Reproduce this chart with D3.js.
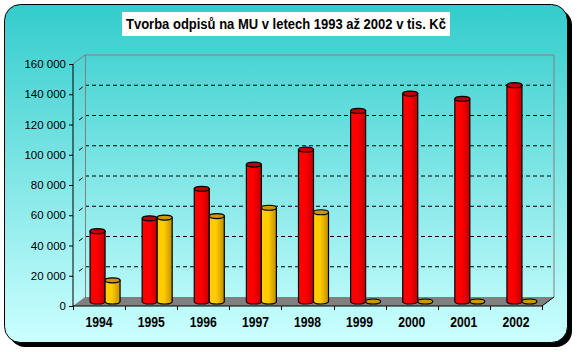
<!DOCTYPE html>
<html>
<head>
<meta charset="utf-8">
<script src="https://cdn.jsdelivr.net/npm/d3@7"></script>
<style>
  html, body { margin: 0; padding: 0; background: #ffffff; }
  svg { display: block; }
</style>
</head>
<body>
<div id="wrapper"></div>
<script>
// chart data
const years = ["1994", "1995", "1996", "1997", "1998", "1999", "2000", "2001", "2002"]
const seriesNames = ["red", "yellow"]
const redValues = [46500, 55000, 74500, 90500, 100500, 126000, 137500, 134000, 143000]
const yellowValues = [14000, 55500, 56500, 62000, 59000, 0, 0, 0, 0]
const yTicks = [0, 20000, 40000, 60000, 80000, 100000, 120000, 140000, 160000]
const titleText = "Tvorba odpisů na MU v letech 1993 až 2002 v tis. Kč"

function drawChart() {
    const width = 577
    const height = 352

    // plot area (front plane) and the 3d depth offset
    const plot = { left: 73, right: 542, top: 64, bottom: 306 }
    const depth = { dx: 12, dy: -9 }

    const svg = d3.select("#wrapper")
        .append("svg")
            .attr("width", width)
            .attr("height", height)

    const defs = svg.append("defs")

    const bg = defs.append("linearGradient")
        .attr("id", "bg").attr("x1", 0).attr("y1", 0).attr("x2", 0).attr("y2", 1)
    bg.append("stop").attr("offset", "0%").attr("stop-color", "#33cccc")
    bg.append("stop").attr("offset", "100%").attr("stop-color", "#ccffff")

    // cylinder shading, light on the left, darker on the right
    const shades = {
        red: ["#ff0000", "#ff0000", "#c00000"],
        yellow: ["#ffcc00", "#ffcc00", "#c09000"]
    }
    const capColors = { red: "#c00000", yellow: "#c89a00" }
    Object.keys(shades).forEach(k => {
        const g = defs.append("linearGradient")
            .attr("id", "cyl-" + k).attr("x1", 0).attr("y1", 0).attr("x2", 1).attr("y2", 0)
        g.append("stop").attr("offset", "0%").attr("stop-color", shades[k][0])
        g.append("stop").attr("offset", "45%").attr("stop-color", shades[k][1])
        g.append("stop").attr("offset", "100%").attr("stop-color", shades[k][2])
    })

    // outer frame with shadow
    svg.append("rect")
        .attr("x", 9).attr("y", 9).attr("width", 563).attr("height", 338)
        .attr("rx", 16).attr("fill", "#000")
    svg.append("rect")
        .attr("x", 4.5).attr("y", 4.5).attr("width", 563).attr("height", 338)
        .attr("rx", 16).attr("fill", "url(#bg)").attr("stroke", "#000")

    // title, squeezed to look like a narrow face
    svg.append("rect")
        .attr("x", 122).attr("y", 12).attr("width", 328).attr("height", 24)
        .attr("fill", "#fff")
    svg.append("text")
        .attr("x", 126).attr("y", 28.5)
        .attr("textLength", 320)
        .attr("lengthAdjust", "spacingAndGlyphs")
        .style("font-family", "'Liberation Sans', Arial, sans-serif")
        .style("font-weight", "bold")
        .style("font-size", "14px")
        .text(titleText)

    // scales
    const y = d3.scaleLinear()
        .domain([0, 160000])
        .range([plot.bottom, plot.top])

    // bars sit at mid depth
    const yBar = d3.scaleLinear()
        .domain([0, 160000])
        .range([plot.bottom + depth.dy / 2, plot.top + depth.dy / 2])

    const x = d3.scaleBand()
        .domain(years)
        .range([plot.left, plot.right])

    const xSeries = d3.scaleBand()
        .domain(seriesNames)
        .range([0, 30])

    // back wall gridlines
    const grid = svg.append("g")
    grid.selectAll("line.grid")
        .data(yTicks.filter(t => t > 0 && t < 160000))
        .join("line")
            .attr("x1", plot.left + depth.dx)
            .attr("x2", plot.right + depth.dx)
            .attr("y1", d => y(d) + depth.dy)
            .attr("y2", d => y(d) + depth.dy)
            .attr("stroke", "#000")
            .attr("stroke-dasharray", "4,3")
    // little bits of gridline on the side wall
    grid.selectAll("line.side")
        .data(yTicks.filter(t => t > 0 && t < 160000))
        .join("line")
            .attr("x1", plot.left)
            .attr("y1", d => y(d))
            .attr("x2", plot.left + depth.dx)
            .attr("y2", d => y(d) + depth.dy)
            .attr("stroke", "#000")
            .attr("stroke-dasharray", "0,7.5,4.5,20")

    // wall edges
    const wall = svg.append("g")
        .attr("fill", "none").attr("stroke", "#808080")
    wall.append("path")
        .attr("d", `M${plot.left},${plot.top} L${plot.left + depth.dx},${plot.top + depth.dy}
                    L${plot.right + depth.dx},${plot.top + depth.dy}
                    L${plot.right + depth.dx},${plot.bottom + depth.dy}`)
    wall.append("line")
        .attr("x1", plot.left + depth.dx + 0.5).attr("x2", plot.left + depth.dx + 0.5)
        .attr("y1", plot.top + depth.dy).attr("y2", plot.bottom + depth.dy)

    // floor
    svg.append("path")
        .attr("d", `M${plot.left},${plot.bottom} L${plot.left + depth.dx},${plot.bottom + depth.dy}
                    L${plot.right + depth.dx},${plot.bottom + depth.dy} L${plot.right},${plot.bottom} Z`)
        .attr("fill", "#808080")
    svg.append("line")
        .attr("x1", plot.right).attr("y1", plot.bottom)
        .attr("x2", plot.right + depth.dx).attr("y2", plot.bottom + depth.dy)
        .attr("stroke", "#000")

    // cylinders
    const rx = xSeries.bandwidth() / 2
    const ry = 2.5
    const barData = []
    years.forEach((yr, i) => {
        barData.push({ year: yr, s: "red", v: redValues[i] })
        barData.push({ year: yr, s: "yellow", v: yellowValues[i] })
    })
    const barX = d => x(d.year) + depth.dx / 2 + (x.bandwidth() - 30) / 2 + xSeries(d.s)

    const bars = svg.append("g").selectAll("g")
        .data(barData)
        .join("g")

    bars.filter(d => d.v > 0).append("path")
        .attr("d", d => {
            const x0 = barX(d), x1 = x0 + 2 * rx
            const yt = yBar(d.v), yb = yBar(0)
            return `M${x0},${yt} L${x0},${yb} A${rx},${ry} 0 0 0 ${x1},${yb} L${x1},${yt} Z`
        })
        .attr("fill", d => `url(#cyl-${d.s})`)
        .attr("stroke", "#000")
        .attr("stroke-width", 1.2)

    bars.append("ellipse")
        .attr("cx", d => barX(d) + rx)
        .attr("cy", d => yBar(d.v))
        .attr("rx", rx)
        .attr("ry", ry)
        .attr("fill", d => capColors[d.s])
        .attr("stroke", "#000")
        .attr("stroke-width", 1.2)

    // axes
    const yAxis = d3.axisLeft(y)
        .tickValues(yTicks)
        .tickSize(4)
        .tickPadding(3)
        .tickFormat(d => d3.format(",")(d).replace(/,/g, " "))
    const yAxisGroup = svg.append("g")
        .attr("transform", `translate(${plot.left},0)`)
        .call(yAxis)
    yAxisGroup.select(".domain").attr("stroke", "#000").attr("d", `M0,${plot.top}V${plot.bottom}`)
    yAxisGroup.selectAll(".tick line").attr("stroke", "#000")
    yAxisGroup.selectAll(".tick text")
        .attr("fill", "#000")
        .style("font-family", "'Liberation Sans', Arial, sans-serif")
        .style("font-size", "11.5px")

    const xAxis = d3.axisBottom(x)
        .tickSize(0)
        .tickPadding(10)
    const xAxisGroup = svg.append("g")
        .attr("transform", `translate(0,${plot.bottom})`)
        .call(xAxis)
    xAxisGroup.select(".domain").attr("stroke", "#000").attr("d", `M${plot.left},0H${plot.right}`)
    xAxisGroup.selectAll(".tick text")
        .attr("fill", "#000")
        .attr("textLength", 27)
        .attr("lengthAdjust", "spacingAndGlyphs")
        .style("font-family", "'Liberation Sans', Arial, sans-serif")
        .style("font-weight", "bold")
        .style("font-size", "15.5px")

    // tick marks between categories
    xAxisGroup.selectAll("line.sep")
        .data(years.map(d => x(d)).concat([plot.right]))
        .join("line")
            .attr("class", "sep")
            .attr("x1", d => Math.round(d) + 0.5).attr("x2", d => Math.round(d) + 0.5)
            .attr("y1", 0).attr("y2", 4)
            .attr("stroke", "#000")
}

drawChart()
</script>
</body>
</html>
